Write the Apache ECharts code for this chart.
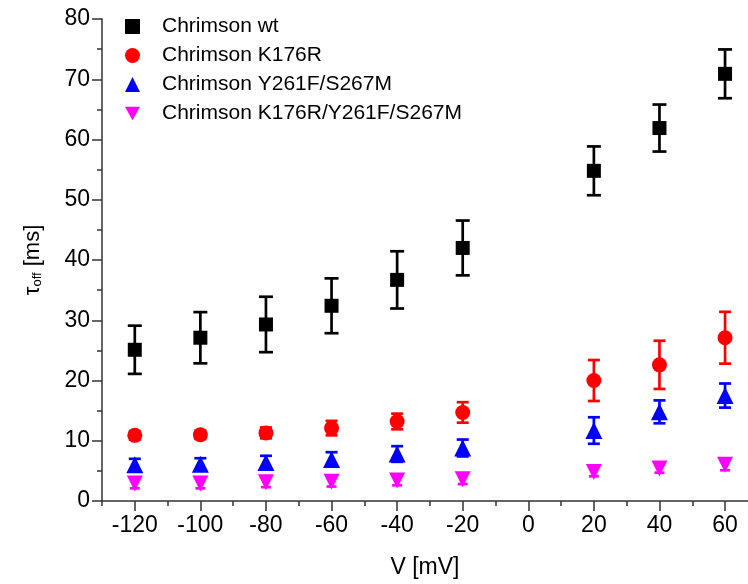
<!DOCTYPE html>
<html>
<head>
<meta charset="utf-8">
<script src="https://cdn.jsdelivr.net/npm/echarts@6/dist/echarts.min.js"></script>
<style>html,body{margin:0;padding:0;background:#fff}#c{width:748px;height:584px}</style>
</head>
<body>
<div id="c"></div>
<script>
var voltages = [-120, -100, -80, -60, -40, -20, 20, 40, 60];
var seriesNames = ['Chrimson wt', 'Chrimson K176R', 'Chrimson Y261F/S267M', 'Chrimson K176R/Y261F/S267M'];
var wt = [25.1, 27.1, 29.3, 32.4, 36.7, 42.0, 54.8, 61.9, 70.9];
var wtErr = [4.0, 4.25, 4.6, 4.55, 4.75, 4.55, 4.05, 3.9, 4.05];
var k176r = [10.9, 11.0, 11.3, 12.1, 13.2, 14.7, 20.0, 22.6, 27.1];
var k176rErr = [0.7, 0.7, 0.9, 1.2, 1.3, 1.7, 3.4, 4.0, 4.3];
var y261f = [6.0, 6.1, 6.4, 6.9, 7.8, 8.8, 11.7, 14.8, 17.5];
var y261fErr = [1.0, 1.0, 1.1, 1.2, 1.3, 1.4, 2.2, 1.9, 2.0];
var triple = [2.9, 2.9, 3.1, 3.2, 3.4, 3.6, 4.8, 5.4, 6.0];
var tripleErr = [0.8, 0.8, 0.8, 0.8, 0.8, 0.8, 0.7, 0.7, 0.9];
var xMajorTicks = [-120, -100, -80, -60, -40, -20, 0, 20, 40, 60];
var xMinorTicks = [-130, -110, -90, -70, -50, -30, -10, 10, 30, 50];

var colors = ['#000000', '#ff0000', '#0000ff', '#ff00ff'];
var symbols = ['rect', 'circle', 'triangle', 'path://M0,0 L10,0 L5,9 Z'];
var symbolSizes = [14, 15, 17, 16];
var capWidths = [14, 12, 12, 10];
var values = [wt, k176r, y261f, triple];
var errs = [wtErr, k176rErr, y261fErr, tripleErr];

var chart = echarts.init(document.getElementById('c'));
var font = 'Liberation Sans, Arial, sans-serif';

var series = [];
values.forEach(function (vals, si) {
  var errData = voltages.map(function (v, i) { return [v, vals[i] - errs[si][i], vals[i] + errs[si][i]]; });
  series.push({
    type: 'custom',
    name: 'err' + si,
    xAxisIndex: 0,
    yAxisIndex: 0,
    z: 2,
    data: errData,
    renderItem: function (params, api) {
      var x = api.value(0);
      var lo = api.coord([x, api.value(1)]);
      var hi = api.coord([x, api.value(2)]);
      var hw = capWidths[si] / 2;
      var st = { stroke: colors[si], lineWidth: 2.7 };
      return {
        type: 'group',
        children: [
          { type: 'line', shape: { x1: lo[0], y1: lo[1], x2: hi[0], y2: hi[1] }, style: st },
          { type: 'line', shape: { x1: lo[0] - hw, y1: lo[1], x2: lo[0] + hw, y2: lo[1] }, style: st },
          { type: 'line', shape: { x1: hi[0] - hw, y1: hi[1], x2: hi[0] + hw, y2: hi[1] }, style: st }
        ]
      };
    }
  });
});
values.forEach(function (vals, si) {
  series.push({
    type: 'scatter',
    name: seriesNames[si],
    xAxisIndex: 0,
    yAxisIndex: 0,
    z: 3,
    symbol: symbols[si],
    symbolSize: symbolSizes[si],
    itemStyle: { color: colors[si], opacity: 1 },
    data: voltages.map(function (v, i) { return [v, vals[i]]; })
  });
});

var option = {
  animation: false,
  backgroundColor: '#fff',
  grid: { left: 102, right: 0, top: 19, bottom: 82, containLabel: false },
  legend: {
    orient: 'vertical',
    left: 120,
    top: 11,
    itemWidth: 15,
    itemHeight: 15,
    itemGap: 8,
    selectedMode: false,
    textStyle: { fontFamily: font, fontSize: 21, lineHeight: 21, color: '#000', padding: [0, 0, 0, 17] },
    data: seriesNames.map(function (n, i) { return { name: n, icon: symbols[i], itemStyle: { color: colors[i] } }; })
  },
  xAxis: [{
    type: 'value',
    min: -130,
    max: 67,
    interval: 10,
    position: 'bottom',
    name: 'V [mV]',
    nameLocation: 'middle',
    nameGap: 55,
    nameTextStyle: { fontFamily: font, fontSize: 23, color: '#000' },
    axisLine: { show: true, onZero: false, lineStyle: { color: '#333', width: 1.5 } },
    axisTick: { show: true, length: 10, customValues: xMajorTicks, lineStyle: { color: '#333', width: 1.5 } },
    axisLabel: { customValues: xMajorTicks, margin: 13, fontFamily: font, fontSize: 23, color: '#000' },
    splitLine: { show: false }
  }, {
    type: 'value',
    min: -130,
    max: 67,
    interval: 10,
    position: 'bottom',
    gridIndex: 0,
    axisLine: { show: false },
    axisTick: { show: true, length: 5, customValues: xMinorTicks, lineStyle: { color: '#333', width: 1.5 } },
    axisLabel: { show: false },
    splitLine: { show: false }
  }],
  yAxis: {
    type: 'value',
    min: 0,
    max: 80,
    interval: 10,
    name: '{t|τ}{s|off} [ms]',
    nameLocation: 'middle',
    nameGap: 58,
    nameRotate: 90,
    nameTextStyle: {
      fontFamily: font, fontSize: 22, color: '#000',
      rich: {
        t: { fontFamily: font, fontSize: 22, color: '#000' },
        s: { fontFamily: font, fontSize: 13, color: '#000', verticalAlign: 'bottom', padding: [8, 0, 0, 0] }
      }
    },
    axisLine: { show: true, onZero: false, lineStyle: { color: '#333', width: 1.5 } },
    axisTick: { show: true, length: 10, lineStyle: { color: '#333', width: 1.5 } },
    minorTick: { show: true, splitNumber: 2, length: 5, lineStyle: { color: '#333', width: 1.5 } },
    axisLabel: { margin: 12, fontFamily: font, fontSize: 23, color: '#000' },
    splitLine: { show: false }
  },
  series: series
};
chart.setOption(option);
</script>
</body>
</html>
